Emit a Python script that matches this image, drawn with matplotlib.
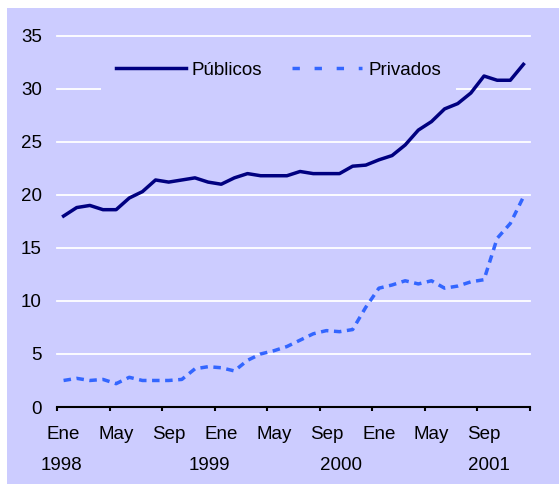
import matplotlib
matplotlib.use('Agg')
import matplotlib.pyplot as plt
from matplotlib.lines import Line2D
from matplotlib.patches import Rectangle

plt.rcParams['font.family'] = ['Liberation Sans', 'DejaVu Sans']
plt.rcParams['lines.scale_dashes'] = False

# series mensuales desde enero de 1998
publicos = [18.0, 18.8, 19.0, 18.6, 18.6, 19.7, 20.3, 21.4, 21.2, 21.4, 21.6, 21.2,
            21.0, 21.6, 22.0, 21.8, 21.8, 21.8, 22.2, 22.0, 22.0, 22.0, 22.7, 22.8,
            23.3, 23.7, 24.7, 26.1, 26.9, 28.1, 28.6, 29.6, 31.2, 30.8, 30.8, 32.3]
privados = [2.5, 2.7, 2.5, 2.6, 2.2, 2.8, 2.5, 2.5, 2.5, 2.6, 3.6, 3.8,
            3.7, 3.4, 4.4, 5.0, 5.3, 5.7, 6.3, 6.9, 7.2, 7.1, 7.3, 9.4,
            11.2, 11.5, 11.9, 11.6, 11.9, 11.2, 11.4, 11.8, 12.0, 15.9, 17.3, 19.8]
meses = list(range(len(publicos)))

etiquetas_mes = ['Ene', 'May', 'Sep', 'Ene', 'May', 'Sep', 'Ene', 'May', 'Sep']
anios = ['1998', '1999', '2000', '2001']
pos_anios = [-0.2, 11.1, 21.15, 32.35]

fondo = '#CCCCFF'
azul_osc = '#000080'
azul = '#3366FF'

fig = plt.figure(figsize=(5.59, 4.84), dpi=100)
fig.patches.append(Rectangle((7 / 559, 0), 1, 1 - 8 / 484, transform=fig.transFigure,
                             facecolor=fondo, edgecolor='none', zorder=-1))
ax = fig.add_axes([57 / 559, 1 - 407 / 484, 473 / 559, 371.3 / 484])
ax.set_facecolor(fondo)

ax.plot(meses, publicos, color=azul_osc, lw=2.5, solid_joinstyle='round')
ax.plot(meses, privados, color=azul, lw=2.5, ls=(0, (5.4, 4.0)), dash_capstyle='butt')

ax.set_xlim(-0.5, len(meses) - 0.5)
ax.set_ylim(0, 35)
ax.set_yticks(range(0, 36, 5))
ax.yaxis.grid(True, color='white', lw=1.3)
ax.set_axisbelow(True)
for g in ax.get_ygridlines():
    g.set_clip_on(False)

for s in ['left', 'right', 'top']:
    ax.spines[s].set_visible(False)
ax.spines['bottom'].set_linewidth(1.5)
ax.spines['bottom'].set_color('black')

# marcas cada cuatro meses, etiquetas centradas en el mes
ax.set_xticks([x - 0.5 for x in range(0, len(meses) + 1, 4)])
ax.set_xticklabels([])
ax.set_xticks(meses[::4], minor=True)
ax.set_xticklabels(etiquetas_mes, minor=True, fontsize=13.5)
ax.tick_params(axis='x', which='major', direction='out', length=3, width=1.5, color='black')
ax.tick_params(axis='x', which='minor', length=0, pad=14)
ax.tick_params(axis='y', length=0, pad=11, labelsize=13.5)

for x, a in zip(pos_anios, anios):
    ax.text(x, -5.94, a, ha='center', va='baseline', fontsize=13.5, clip_on=False)

h = [Line2D([], [], color=azul_osc, lw=2.5),
     Line2D([], [], color=azul, lw=2.5, ls=(0, (5.3, 10.6)), dash_capstyle='butt')]
ax.legend(h, ['Públicos', 'Privados'], ncol=2, loc='center', bbox_to_anchor=(0.468, 0.9076),
          frameon=True, facecolor=fondo, edgecolor='none', framealpha=1, fancybox=False,
          fontsize=13.5, handlelength=3.73, handletextpad=0.32, columnspacing=1.6,
          borderpad=0.8)

fig.savefig('out.png', dpi=100)
